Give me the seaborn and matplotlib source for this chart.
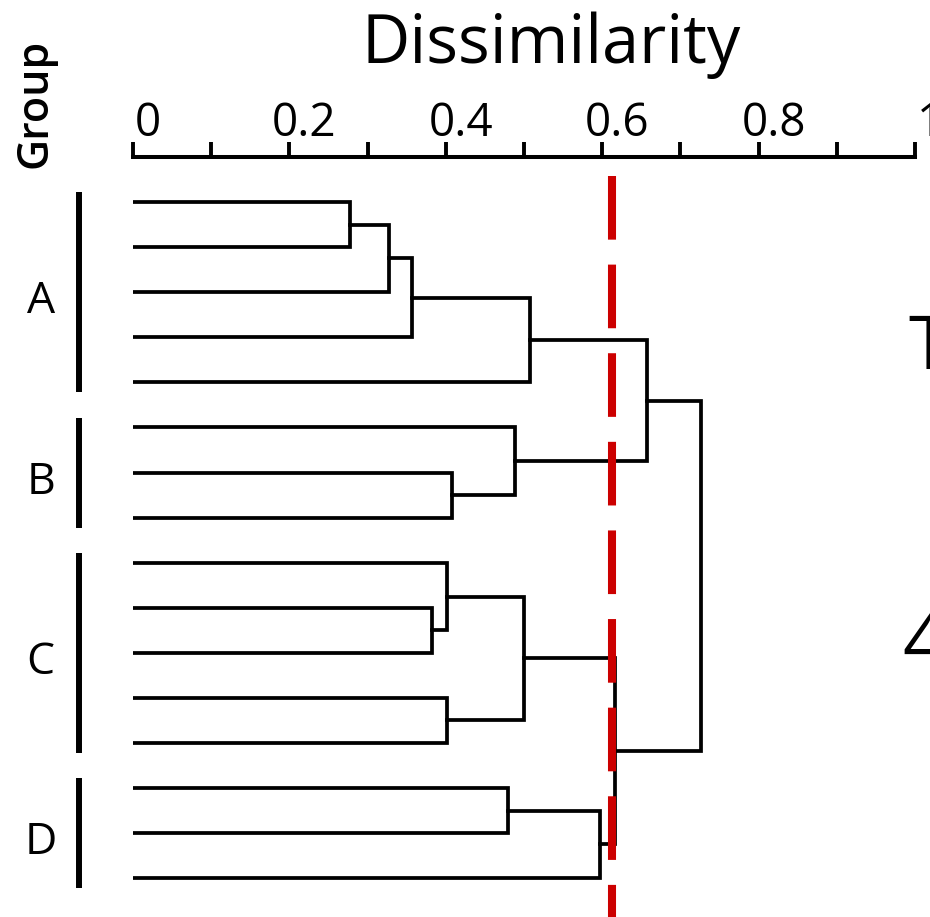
import numpy as np
import pandas as pd
import matplotlib
matplotlib.use("Agg")
import matplotlib.pyplot as plt
import matplotlib.transforms as mtransforms
import seaborn as sns

# leaves in drawing order (top to bottom) and their groups
groups = ["A", "B", "C", "D"]
group_sizes = [5, 3, 5, 3]

# merges: (child 1, child 2, dissimilarity); ids < 16 are leaves, new nodes get 16, 17, ...
merge_left = [0, 16, 17, 18, 6, 5, 19, 9, 8, 11, 24, 13, 27, 26, 22]
merge_right = [1, 2, 3, 4, 7, 20, 21, 10, 23, 12, 25, 14, 15, 28, 29]
merge_height = [0.277, 0.327, 0.357, 0.508, 0.408, 0.488, 0.657,
                0.382, 0.401, 0.401, 0.500, 0.480, 0.597, 0.616, 0.726]

cut_level = 0.612
tick_values = [0, 0.2, 0.4, 0.6, 0.8, 1]
tick_labels = ["0", "0.2", "0.4", "0.6", "0.8", "1"]

# build link segments like scipy's dendrogram output
n_leaves = sum(group_sizes)
node_y = {i: float(i) for i in range(n_leaves)}
node_h = {i: 0.0 for i in range(n_leaves)}
rows = []
for k, (a, b, h) in enumerate(zip(merge_left, merge_right, merge_height)):
    pts = [(node_h[a], node_y[a]), (h, node_y[a]), (h, node_y[b]), (node_h[b], node_y[b])]
    for order, (x, y) in enumerate(pts):
        rows.append({"link": k, "order": order, "x": x, "y": y})
    new_id = n_leaves + k
    node_y[new_id] = (node_y[a] + node_y[b]) / 2
    node_h[new_id] = h
links = pd.DataFrame(rows)

sns.set_theme(style="white")
plt.rcParams["font.family"] = ["Open Sans", "DejaVu Sans"]
plt.rcParams["text.color"] = "black"
plt.rcParams["xtick.color"] = "black"
plt.rcParams["xtick.labelcolor"] = "black"

fig = plt.figure(figsize=(9.3, 9.17), dpi=100)
ax = fig.add_axes([133 / 930, 0, 782 / 930, 760 / 917])

sns.lineplot(data=links, x="x", y="y", units="link", estimator=None, sort=False,
             color="black", linewidth=2.7, ax=ax, legend=False)
for line in ax.lines:
    line.set_solid_joinstyle("miter")
    line.set_solid_capstyle("projecting")

ytop, ybot = -1.0, 15.86
ax.plot([cut_level, cut_level], [-0.58, ybot], color="#cc0000", linewidth=5.8,
        dashes=(7.9, 3.1), solid_capstyle="butt", dash_capstyle="butt", clip_on=False)

ax.set_xlim(0, 1)
ax.set_ylim(ybot, ytop)
ax.set_xlabel("")
ax.set_ylabel("")
ax.set_yticks([])

ax.xaxis.tick_top()
ax.set_xticks(tick_values)
ax.set_xticklabels(tick_labels)
ax.set_xticks(np.arange(0.1, 1.0, 0.2), minor=True)
ax.tick_params(axis="x", which="both", direction="out", length=11, width=2.8,
               color="black", top=True, bottom=False)
ax.tick_params(axis="x", which="major", labelsize=33, pad=-4, labelcolor="black")
offset = mtransforms.ScaledTranslation(0.15, 0, fig.dpi_scale_trans)
for lab in ax.get_xticklabels():
    lab.set_transform(lab.get_transform() + offset)

for side in ["left", "right", "bottom"]:
    ax.spines[side].set_visible(False)
ax.spines["top"].set_linewidth(2.9)
ax.spines["top"].set_color("black")

# group bars and labels
start = 0
for g, size in zip(groups, group_sizes):
    y0, y1 = start - 0.22, start + size - 1 + 0.22
    ax.plot([-0.069, -0.069], [y0, y1], color="black", linewidth=4.3,
            solid_capstyle="butt", clip_on=False)
    ax.text(-0.118, start + (size - 1) / 2 + 0.1, g, fontsize=32, ha="center",
            va="center_baseline", color="black", clip_on=False)
    start += size

fig.text(551 / 930, 1 - 63 / 917, "Dissimilarity", fontsize=48, ha="center",
         va="baseline", color="black")
fig.text(35 / 930, 1 - 103 / 917, "Group", fontsize=31, fontweight="semibold",
         rotation=90, ha="center", va="center", color="black")

# edge of the neighbouring panel, cut off by the figure border
fig.text(908 / 930, 1 - 312 / 917, "T", fontsize=54, ha="left", va="top", color="black")
fig.text(902 / 930, 1 - 667 / 917, "4", fontsize=54, ha="left", va="baseline", color="black")

fig.savefig("out.png", dpi=100)
